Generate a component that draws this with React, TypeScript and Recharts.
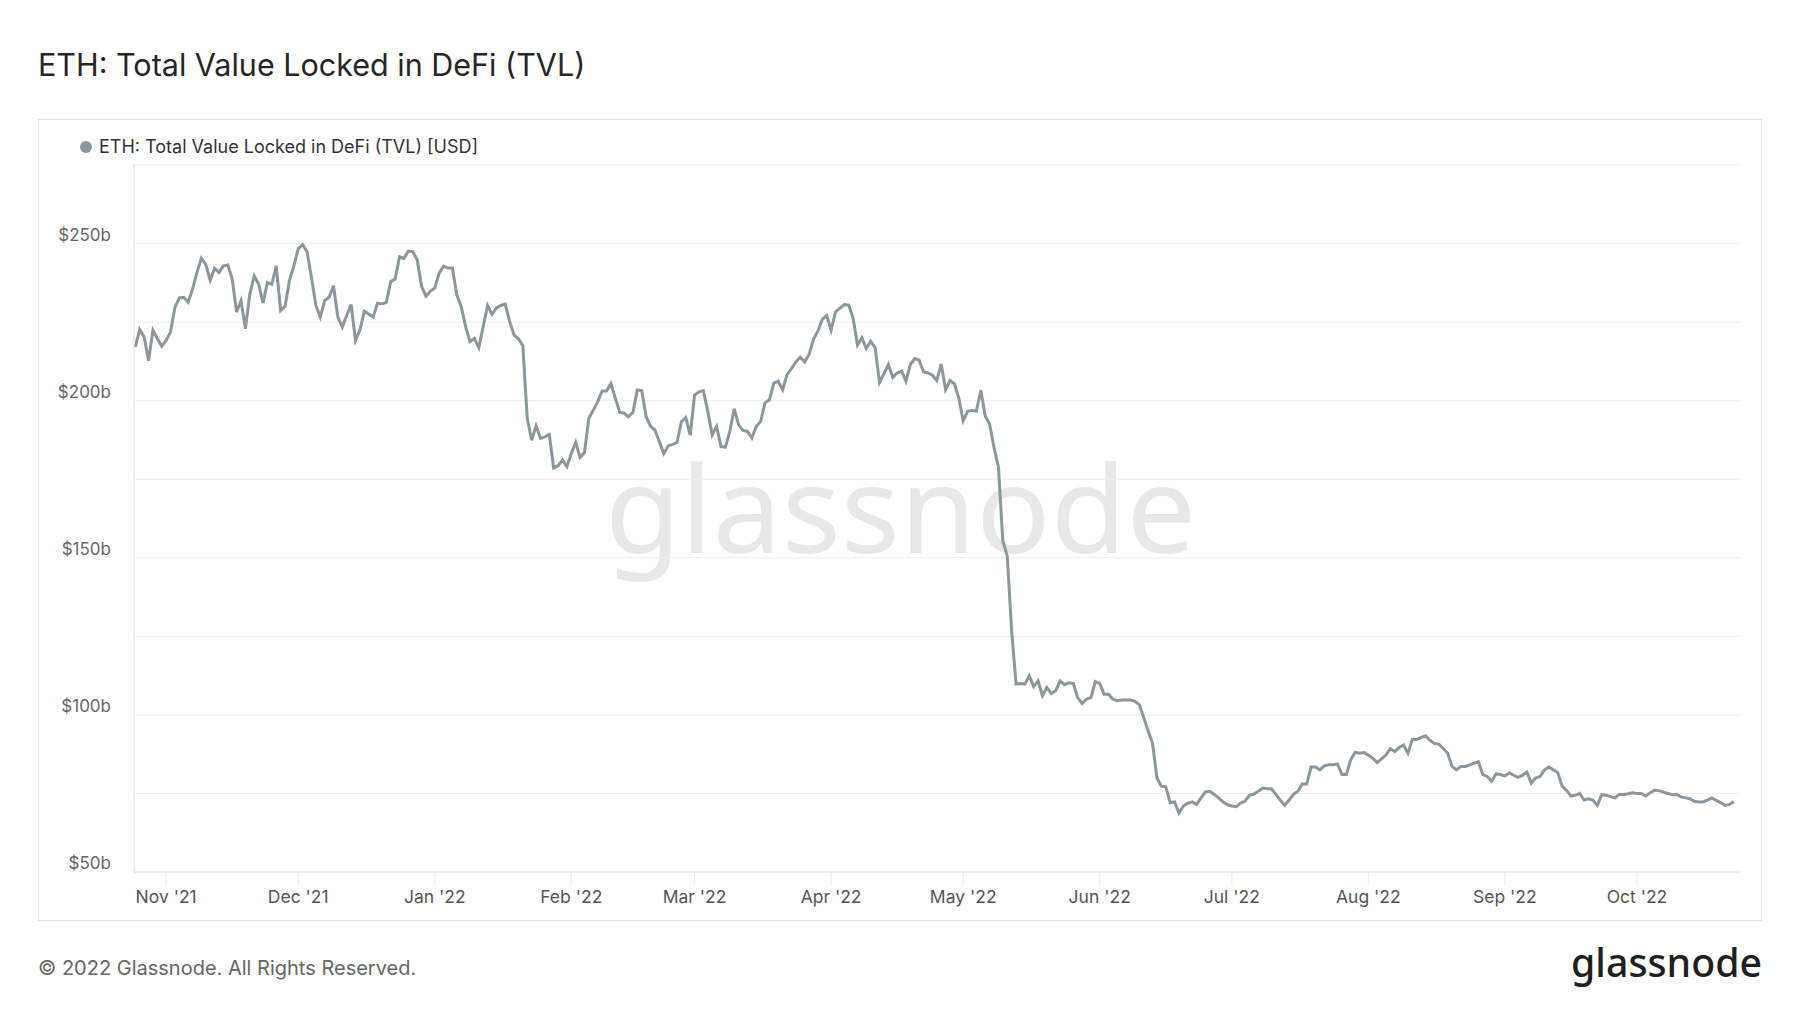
import React from 'react';
import { LineChart, Line, XAxis, YAxis, CartesianGrid } from 'recharts';

const DAY = 86400000;
const START = Date.UTC(2021, 9, 25); // first daily point, 25 Oct 2021

// daily TVL in billions of USD, grouped by month
const oct21 = [217.1, 222.6, 220.3, 212.7, 222.4, 219.8, 217.3];
const nov21 = [219.2, 221.9, 229.7, 232.7, 232.9, 231.3, 235.5, 240.8, 245.3, 243.4, 238.3, 242.1, 240.8, 242.9, 243.2, 238.7, 228.2, 231.8, 222.9, 233.9, 239.7, 237.1, 231.1, 237.6, 237.1, 242.9, 228.7, 230.0, 238.2, 242.9];
const dec21 = [248.4, 249.7, 247.4, 239.2, 230.3, 226.6, 231.8, 232.9, 236.6, 226.6, 223.4, 227.1, 230.6, 219.2, 222.4, 228.5, 227.6, 226.6, 231.0, 230.8, 231.3, 237.9, 238.7, 245.8, 245.3, 247.6, 247.4, 244.9, 236.4, 233.2, 234.8];
const jan22 = [235.9, 240.6, 242.8, 242.2, 242.2, 233.7, 230.0, 223.6, 218.8, 219.8, 216.9, 223.6, 230.3, 227.5, 229.5, 230.3, 230.7, 225.2, 220.9, 219.7, 217.5, 194.4, 187.4, 192.0, 188.0, 188.5, 189.3, 178.6, 179.3, 181.1, 179.0];
const feb22 = [183.2, 186.7, 181.9, 183.5, 194.4, 197.0, 199.7, 203.1, 203.1, 205.5, 200.8, 196.3, 196.0, 194.9, 196.3, 203.4, 203.2, 194.9, 191.9, 190.6, 186.9, 183.2, 185.6, 186.1, 186.7, 193.3, 194.6, 189.0];
const mar22 = [201.8, 202.8, 203.2, 196.6, 189.1, 191.8, 185.4, 185.2, 190.2, 197.4, 192.3, 190.5, 190.2, 188.1, 191.8, 193.4, 199.3, 200.3, 205.6, 206.2, 203.5, 208.3, 210.2, 212.3, 213.8, 212.3, 214.7, 219.5, 222.1, 225.9, 227.1];
const apr22 = [222.4, 228.3, 229.4, 230.6, 230.4, 226.2, 217.7, 220.0, 216.6, 218.9, 216.8, 205.8, 208.5, 211.5, 207.4, 208.8, 209.4, 206.2, 211.5, 213.4, 212.9, 209.1, 208.8, 208.1, 206.4, 211.7, 203.5, 206.4, 205.4, 200.8];
const may22 = [193.6, 196.6, 196.9, 196.7, 203.3, 195.1, 192.5, 185.0, 178.9, 155.4, 150.6, 126.8, 109.8, 110.0, 109.8, 112.4, 109.0, 110.8, 106.1, 108.7, 106.8, 107.7, 110.8, 109.6, 110.2, 110.0, 105.5, 103.6, 105.0, 105.5, 110.6];
const jun22 = [110.0, 106.6, 106.6, 105.0, 104.5, 104.7, 104.7, 104.7, 104.3, 103.2, 99.2, 94.9, 90.9, 79.9, 77.3, 77.1, 72.1, 72.3, 68.7, 71.0, 71.9, 72.3, 71.5, 73.6, 75.5, 75.7, 74.7, 73.6, 72.3, 71.4];
const jul22 = [71.0, 70.8, 71.9, 72.6, 74.4, 74.8, 75.7, 76.7, 76.5, 76.5, 74.7, 72.9, 71.2, 72.9, 74.7, 75.7, 78.0, 78.0, 83.4, 83.4, 82.5, 83.8, 84.1, 84.1, 84.4, 81.0, 81.0, 85.7, 88.1, 87.8, 88.0];
const aug22 = [87.2, 86.2, 84.8, 86.0, 87.2, 89.3, 88.3, 89.6, 90.4, 87.8, 92.2, 92.2, 92.8, 93.3, 91.9, 90.9, 90.7, 89.3, 87.8, 83.6, 82.5, 83.6, 83.6, 84.1, 84.6, 85.1, 81.0, 80.4, 78.9, 81.2, 81.0];
const sep22 = [80.6, 81.5, 80.8, 80.1, 80.8, 81.8, 78.3, 79.9, 80.4, 82.5, 83.4, 82.5, 81.7, 77.3, 76.0, 74.2, 74.4, 75.0, 72.9, 73.3, 72.9, 71.2, 74.6, 74.4, 74.0, 73.6, 74.7, 74.7, 74.9, 75.2];
const oct22 = [75.0, 75.0, 74.2, 75.2, 76.0, 75.9, 75.4, 75.0, 74.6, 74.7, 73.9, 73.6, 73.3, 72.5, 72.3, 72.3, 72.9, 73.6, 72.8, 72.1, 71.2, 71.5, 72.4];

const tvl = [...oct21, ...nov21, ...dec21, ...jan22, ...feb22, ...mar22, ...apr22, ...may22, ...jun22, ...jul22, ...aug22, ...sep22, ...oct22];

const monthTicks = [
  Date.UTC(2021, 10, 1), Date.UTC(2021, 11, 1), Date.UTC(2022, 0, 1), Date.UTC(2022, 1, 1),
  Date.UTC(2022, 2, 1), Date.UTC(2022, 3, 1), Date.UTC(2022, 4, 1), Date.UTC(2022, 5, 1),
  Date.UTC(2022, 6, 1), Date.UTC(2022, 7, 1), Date.UTC(2022, 8, 1), Date.UTC(2022, 9, 1),
];
const monthLabels = ["Nov '21", "Dec '21", "Jan '22", "Feb '22", "Mar '22", "Apr '22", "May '22", "Jun '22", "Jul '22", "Aug '22", "Sep '22", "Oct '22"];
const yTicks = [50, 75, 100, 125, 150, 175, 200, 225, 250, 275];

const data = tvl.map((v, i) => ({ t: START + i * DAY, v }));

const FONT = 'Inter, "Noto Sans", sans-serif';
const LINE = '#8a989e';

const YTick = (props: any) => {
  const { y, payload } = props;
  if (payload.value % 50 !== 0) return <g />;
  return (
    <text x={111} y={y - 9} textAnchor="end" dominantBaseline="central" fill="#666" fontSize={17} fontFamily={FONT}>
      {'$' + payload.value + 'b'}
    </text>
  );
};

const XTick = (props: any) => {
  const { x, y, payload } = props;
  const idx = monthTicks.indexOf(payload.value);
  return (
    <text x={x} y={y + 10} textAnchor="middle" dominantBaseline="central" fill="#555" fontSize={17.5} fontFamily={FONT}>
      {monthLabels[idx]}
    </text>
  );
};

export default function App() {
  return (
    <div style={{ position: 'absolute', left: 0, top: 0, width: 1800, height: 1013, background: '#fff', overflow: 'hidden', fontFamily: FONT }}>
      <div style={{ position: 'absolute', left: 38, top: 45, fontSize: 30.5, color: '#262626', lineHeight: '40px', whiteSpace: 'nowrap' }}>
        ETH: Total Value Locked in DeFi (TVL)
      </div>
      <div style={{ position: 'absolute', left: 38, top: 119, width: 1722, height: 800, border: '1px solid #e4e4e4' }} />
      <div style={{ position: 'absolute', left: 80, top: 136, display: 'flex', alignItems: 'center', fontSize: 18, color: '#333', whiteSpace: 'nowrap' }}>
        <span style={{ display: 'inline-block', width: 12, height: 12, borderRadius: 6, background: LINE, marginRight: 7 }} />
        ETH: Total Value Locked in DeFi (TVL) [USD]
      </div>
      <svg style={{ position: 'absolute', left: 0, top: 0 }} width={1800} height={1013}>
        <text x={605} y={553} fontSize={120} fill="#e8e8e8" fontFamily='"Noto Sans", sans-serif' textLength={591} lengthAdjust="spacingAndGlyphs">
          glassnode
        </text>
      </svg>
      <div style={{ position: 'absolute', left: 0, top: 0 }}>
        <LineChart width={1800} height={1013} data={data} margin={{ top: 165, right: 60, bottom: 101, left: 34 }}>
          <CartesianGrid vertical={false} stroke="#efefef" />
          <XAxis
            dataKey="t"
            type="number"
            domain={[START - 0.3 * DAY, START + 364.4 * DAY]}
            ticks={monthTicks}
            interval={0}
            height={40}
            tickSize={14}
            tickMargin={0}
            tickLine={{ stroke: '#ececec' }}
            axisLine={{ stroke: '#e0e0e0' }}
            tick={<XTick />}
          />
          <YAxis
            type="number"
            domain={[50, 275]}
            ticks={yTicks}
            interval={0}
            width={100}
            tickLine={false}
            axisLine={{ stroke: '#dedede' }}
            tick={<YTick />}
          />
          <Line type="linear" dataKey="v" stroke={LINE} strokeWidth={3} dot={false} isAnimationActive={false} />
        </LineChart>
      </div>
      <div style={{ position: 'absolute', left: 38, top: 955, fontSize: 20, color: '#666', lineHeight: '26px', whiteSpace: 'nowrap' }}>
        © 2022 Glassnode. All Rights Reserved.
      </div>
      <svg style={{ position: 'absolute', left: 0, top: 0 }} width={1800} height={1013}>
        <text x={1571} y={977} fontSize={40} fontWeight={500} fill="#1f1f1f" fontFamily='"Noto Sans", sans-serif' textLength={191} lengthAdjust="spacingAndGlyphs">
          glassnode
        </text>
      </svg>
    </div>
  );
}
